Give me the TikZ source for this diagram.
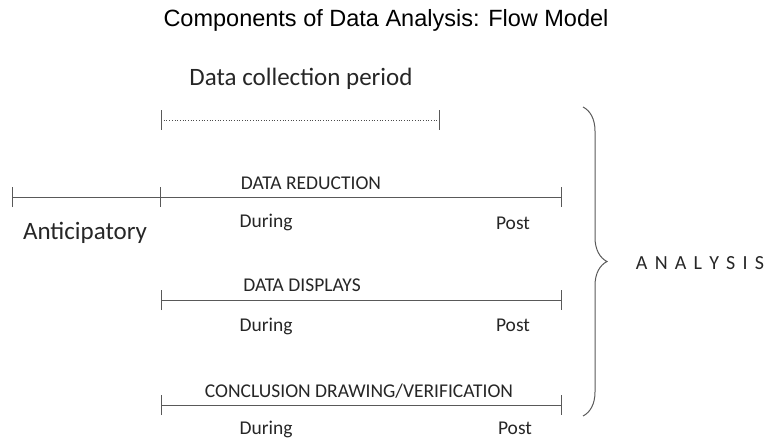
\documentclass[tikz,border=0pt]{standalone}
\usepackage{fontspec}
\setmainfont{Carlito}
\newfontfamily\titlefont{Liberation Sans}
\usetikzlibrary{arrows.meta,decorations.pathreplacing}
\newcommand{\lsp}{\hspace{7.2pt}}
\begin{document}
\begin{tikzpicture}[x=1pt,y=-1pt,
  seg/.style={draw=black!65, line width=1pt, {Bar[width=20pt,line width=1pt]}-{Bar[width=20pt,line width=1pt]}},
  segr/.style={draw=black!65, line width=1pt, -{Bar[width=20pt,line width=1pt]}},
  lbl/.style={inner sep=0pt, font=\fontsize{19.5}{23}\selectfont, text=black!85},
  big/.style={inner sep=0pt, font=\fontsize{25}{30}\selectfont, text=black!85}]
\useasboundingbox (0,0) rectangle (765,440);
\node[inner sep=0pt, font=\titlefont\fontsize{23.5}{28}\selectfont] (title) at (386,20) {Components of Data Analysis: Flow Model};
\node[big] (dcp) at (301,79) {Data collection period};
% data collection period
\coordinate (c1) at (161,120);
\coordinate (c2) at (439,120);
\draw[draw=black!70, line width=0.7pt, dotted] (c1) -- (c2);
\draw[draw=black!65, line width=1pt] (161,110) -- (161,130) (439,110) -- (439,130);
% anticipatory
\coordinate (a0) at (12,197);
\coordinate (a1) at (161,197);
\coordinate (a2) at (562,197);
\draw[seg] (a0) -- (a1);
\draw[segr] (a1) -- (a2);
\node[big] (ant) at (85,233) {Anticipatory};
\node[lbl] (dr) at (311,183) {DATA REDUCTION};
\node[lbl] (d1) at (266,222) {During};
\node[lbl] (p1) at (513,223) {Post};
% displays
\coordinate (b1) at (161,300);
\coordinate (b2) at (562,300);
\draw[seg] (b1) -- (b2);
\node[lbl] (dd) at (302,285) {DATA DISPLAYS};
\node[lbl] (d2) at (266,326) {During};
\node[lbl] (p2) at (513,325) {Post};
% conclusion
\coordinate (e1) at (161,405);
\coordinate (e2) at (562,405);
\draw[seg] (e1) -- (e2);
\node[lbl] (cd) at (359,391) {CONCLUSION DRAWING/VERIFICATION};
\node[lbl] (d3) at (266,429) {During};
\node[lbl] (p3) at (515,428) {Post};
% brace
\coordinate (bt) at (583,107);
\coordinate (bb) at (583,416);
\draw[draw=black!65, line width=1pt, decorate, decoration={brace, amplitude=24pt}] (bt) -- (bb);
\node[inner sep=0pt, font=\fontsize{20}{24}\selectfont, text=black!85] (an) at (700,263) {A\lsp N\lsp A\lsp L\lsp Y\lsp S\lsp I\lsp S};
\end{tikzpicture}
\end{document}
